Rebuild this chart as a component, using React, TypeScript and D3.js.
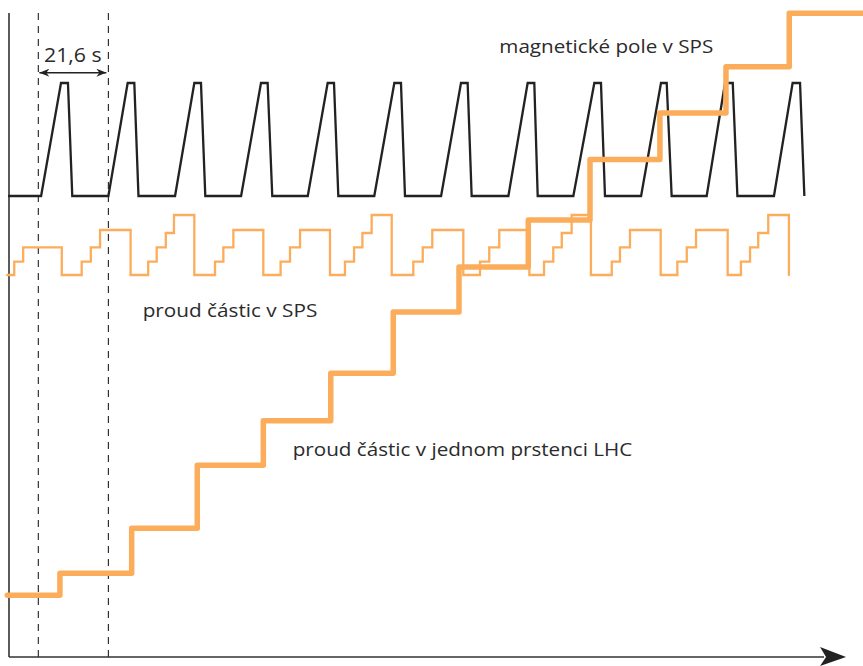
import React from "react";
import * as d3 from "d3";

// time in seconds from the axis origin
const TIME_MAX = 276.7;
const AXIS_END = 271.2;
const MARKER_TIMES = [9.5, 32.2];
const PERIOD_LABEL = "21,6 s";

// magnetic field in SPS (0 = injection level, 1 = flat top)
const fieldSeries: [number, number][] = [
  [-0.3, 0],
  [10.4, 0], [16.85, 1], [19.1, 1], [20.5, 0],
  [32.2, 0], [38.45, 1], [40.6, 1], [41.95, 0],
  [53.8, 0], [60.05, 1], [62.2, 1], [63.6, 0],
  [75.2, 0], [81.65, 1], [83.8, 1], [85.3, 0],
  [96.8, 0], [103.25, 1], [105.3, 1], [106.7, 0],
  [118.35, 0], [124.85, 1], [127.0, 1], [128.3, 0],
  [140.0, 0], [146.45, 1], [148.6, 1], [149.9, 0],
  [161.8, 0], [168.05, 1], [170.2, 1], [171.3, 0],
  [182.85, 0], [189.65, 1], [191.8, 1], [193.1, 0],
  [204.8, 0], [211.25, 1], [213.1, 1], [214.7, 0],
  [226.05, 0], [232.0, 1], [234.5, 1], [236.0, 0],
  [247.85, 0], [253.9, 1], [256.3, 1], [257.7, 0],
];

// beam intensity in SPS (relative units), step changes
const spsSeries: [number, number][] = [
  [-0.6, 0], [1.7, 13.3], [4.6, 27.7],
  [17.1, 0], [23.55, 13.3], [26.5, 27.7], [29.5, 45],
  [39.4, 0], [45.1, 13.3], [47.85, 27.7], [50.8, 42], [53.45, 60],
  [60.05, 0], [66.75, 13.3], [69.45, 27.7], [72.7, 45],
  [82.4, 0], [88.0, 13.3], [91.05, 27.7], [94.3, 45],
  [104.0, 0], [108.85, 13.3], [111.8, 27.7], [114.5, 42], [117.5, 60],
  [124.0, 0], [131.0, 13.3], [134.05, 27.7], [137.15, 45],
  [147.2, 0], [152.6, 13.3], [155.6, 27.7], [158.85, 45],
  [168.6, 0], [173.35, 13.3], [176.35, 27.7], [179.1, 42], [182.3, 60],
  [188.55, 0], [195.3, 13.3], [197.95, 27.7], [201.2, 45],
  [211.15, 0], [216.55, 13.3], [219.6, 27.7], [222.6, 45],
  [232.85, 0], [237.15, 13.3], [240.1, 27.7], [242.75, 42], [246.0, 60],
  [252.7, 0],
];

// beam intensity in one LHC ring (% of final), step changes
const lhcSeries: [number, number][] = [
  [-0.55, 9.6],
  [16.5, 13.0],
  [39.75, 20.0],
  [61.0, 29.8],
  [82.4, 36.7],
  [104.25, 44.1],
  [124.5, 53.6],
  [145.8, 60.6],
  [168.25, 67.9],
  [188.25, 77.3],
  [210.9, 84.5],
  [232.3, 91.7],
  [252.8, 100],
  [276.7, 100],
];

const labelTexts = [
  "magnetické pole v SPS",
  "proud částic v SPS",
  "proud částic v jednom prstenci LHC",
];

const ORANGE = "#FBAD5B";
const DARK = "#222222";
const TEXT = "#2b2b2b";
const FONT = "'Open Sans', 'Noto Sans', sans-serif";

export default function App() {
  const W = 863;
  const H = 666;
  const x = d3.scaleLinear().domain([0, TIME_MAX]).range([9, 863]);
  const yField = d3.scaleLinear().domain([0, 1]).range([196, 83]);
  const ySps = d3.scaleLinear().domain([0, 60]).range([275, 215]);
  const yLhc = d3.scaleLinear().domain([0, 100]).range([657, 13.3]);

  const fieldLine = d3
    .line<[number, number]>()
    .x((d) => x(d[0]))
    .y((d) => yField(d[1]));
  const spsLine = d3
    .line<[number, number]>()
    .x((d) => x(d[0]))
    .y((d) => ySps(d[1]))
    .curve(d3.curveStepAfter);
  const lhcLine = d3
    .line<[number, number]>()
    .x((d) => x(d[0]))
    .y((d) => yLhc(d[1]))
    .curve(d3.curveStepAfter);

  const x0 = x(0);
  const yAxis = yLhc(0);
  const tip = x(AXIS_END);
  const m0 = x(MARKER_TIMES[0]);
  const m1 = x(MARKER_TIMES[1]);
  const arrowY = 72.7;

  return (
    <svg
      width={W}
      height={H}
      viewBox={`0 0 ${W} ${H}`}
      style={{ position: "absolute", left: 0, top: 0, background: "#fff" }}
    >
      <defs>
        <marker
          id="ah"
          viewBox="0 0 10 8"
          refX="10"
          refY="4"
          markerWidth="10"
          markerHeight="8"
          markerUnits="userSpaceOnUse"
          orient="auto-start-reverse"
        >
          <path d="M0,0 L10,4 L0,8 L3,4 Z" fill={DARK} />
        </marker>
      </defs>

      {/* dashed period markers */}
      {MARKER_TIMES.map((t, i) => (
        <line
          key={i}
          x1={x(t)}
          x2={x(t)}
          y1={13}
          y2={yAxis}
          stroke={DARK}
          strokeWidth={1.1}
          strokeDasharray="7,6"
        />
      ))}

      {/* axes */}
      <line x1={x0} x2={x0} y1={13} y2={yAxis} stroke="#333" strokeWidth={1.6} />
      <line x1={x0} x2={tip - 22} y1={yAxis} y2={yAxis} stroke="#333" strokeWidth={1.6} />
      <path
        d={`M${tip},${yAxis} L${tip - 26},${yAxis - 10} L${tip - 20},${yAxis} L${tip - 26},${yAxis + 9} Z`}
        fill="#222"
      />

      {/* period arrow */}
      <line
        x1={m0 + 1}
        x2={m1 - 2}
        y1={arrowY}
        y2={arrowY}
        stroke={DARK}
        strokeWidth={1.5}
        markerStart="url(#ah)"
        markerEnd="url(#ah)"
      />
      <text
        x={44}
        y={61.5}
        textLength={57.7}
        lengthAdjust="spacingAndGlyphs"
        fontFamily={FONT}
        fontSize={19.5}
        fill={TEXT}
      >
        {PERIOD_LABEL}
      </text>

      {/* SPS beam current */}
      <path
        d={spsLine(spsSeries) || ""}
        fill="none"
        stroke={ORANGE}
        strokeWidth={2.3}
        strokeLinecap="round"
      />

      {/* SPS magnetic field */}
      <path
        d={fieldLine(fieldSeries) || ""}
        fill="none"
        stroke={DARK}
        strokeWidth={2.3}
        strokeLinejoin="miter"
      />

      {/* LHC ring current */}
      <path
        d={lhcLine(lhcSeries) || ""}
        fill="none"
        stroke={ORANGE}
        strokeWidth={5.5}
        strokeLinecap="round"
        strokeLinejoin="round"
      />

      {/* labels */}
      <text
        x={499.3}
        y={53.3}
        textLength={214}
        lengthAdjust="spacingAndGlyphs"
        fontFamily={FONT}
        fontSize={18}
        fill={TEXT}
      >
        {labelTexts[0]}
      </text>
      <text
        x={142.7}
        y={317}
        textLength={174.6}
        lengthAdjust="spacingAndGlyphs"
        fontFamily={FONT}
        fontSize={18}
        fill={TEXT}
      >
        {labelTexts[1]}
      </text>
      <text
        x={292.7}
        y={455.7}
        textLength={339.6}
        lengthAdjust="spacingAndGlyphs"
        fontFamily={FONT}
        fontSize={18}
        fill={TEXT}
      >
        {labelTexts[2]}
      </text>
    </svg>
  );
}
